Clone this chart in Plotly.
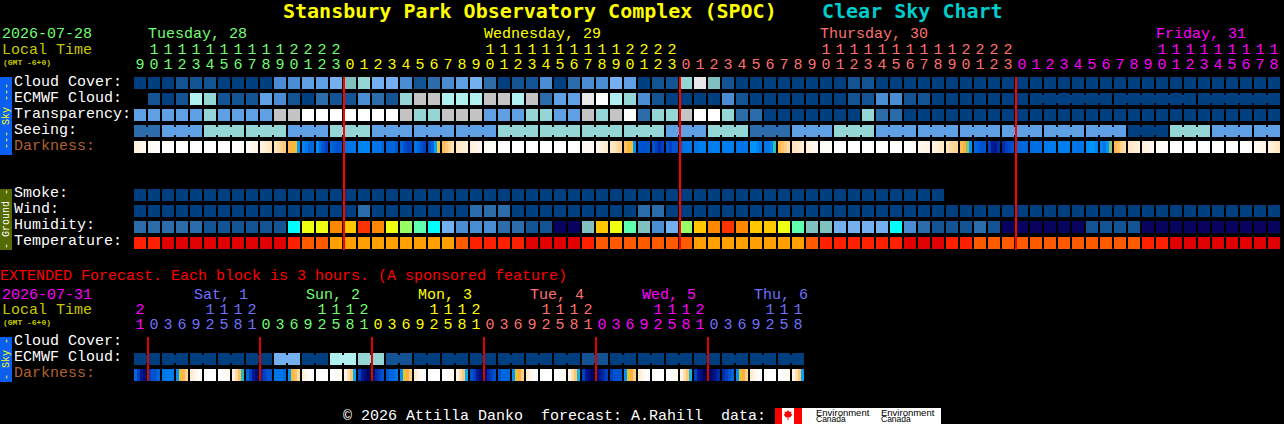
import plotly.graph_objects as go

W, H = 1284, 424
MONO = "Liberation Mono"
TITLE_FONT = "DejaVu Sans Mono"

GREEN = "#70ff70"
YELLOW = "#ffff00"
SALMON = "#ff7070"
MAGENTA = "#ff00ff"
PERI = "#7070ff"

# one palette for all block rows, the row lists below index into it
PALETTE = [
    "#003f7f", "#135393", "#2d6cab", "#4b8dd3", "#5f9fe3", "#74b0f0",
    "#80c0c0", "#94d5d5", "#b0f0f0", "#c4c4c4", "#e8e8e8", "#ffffff",
    "#08035f", "#00ffff", "#5fffb0", "#99ff66", "#eeff11", "#ffc800",
    "#ff8800", "#ff3300", "#e00000", "#ff2000", "#ff5a00", "#ffa000",
]

DARK_SCALE = [
    [0 / 12, "#ffffff"], [1 / 12, "#fff3e2"], [2 / 12, "#ffe4bc"], [3 / 12, "#ffcf88"],
    [4 / 12, "#ffb040"], [5 / 12, "#f0c030"], [6 / 12, "#30c0b0"], [7 / 12, "#00a4ff"],
    [8 / 12, "#0084f4"], [9 / 12, "#0066dc"], [10 / 12, "#0040c0"], [11 / 12, "#001890"],
    [12 / 12, "#000060"],
]

hours = [9, 10, 11, 12, 13, 14, 15, 16, 17, 18, 19, 20, 21, 22, 23,
         0, 1, 2, 3, 4, 5, 6, 7, 8, 9, 10, 11, 12, 13, 14, 15, 16, 17, 18, 19, 20, 21, 22, 23,
         0, 1, 2, 3, 4, 5, 6, 7, 8, 9, 10, 11, 12, 13, 14, 15, 16, 17, 18, 19, 20, 21, 22, 23,
         0, 1, 2, 3, 4, 5, 6, 7, 8, 9, 10, 11, 12, 13, 14, 15, 16, 17, 18]
hour_days = [GREEN] * 15 + [YELLOW] * 24 + [SALMON] * 24 + [MAGENTA] * 19
midnights = [15, 39, 63]

ext_hours = [21,
             0, 3, 6, 9, 12, 15, 18, 21,
             0, 3, 6, 9, 12, 15, 18, 21,
             0, 3, 6, 9, 12, 15, 18, 21,
             0, 3, 6, 9, 12, 15, 18, 21,
             0, 3, 6, 9, 12, 15, 18, 21,
             0, 3, 6, 9, 12, 15, 18]
ext_days = [MAGENTA] + [PERI] * 8 + [GREEN] * 8 + [YELLOW] * 8 + [SALMON] * 8 + [MAGENTA] * 8 + [PERI] * 7
ext_midnights = [1, 9, 17, 25, 33, 41]

cloud = [0, 0, 0, 1, 1, 1, 0, 0, 0, 0, 3, 3, 4, 4, 5, 6, 7, 5, 5, 3,
         1, 2, 3, 4, 5, 2, 0, 1, 1, 3, 0, 2, 3, 3, 5, 4, 0, 1, 1, 7,
         10, 6, 1, 0, 0, 0, 0, 0, 0, 0, 0, 1, 1, 0, 0, 0, 0, 0, 0, 0,
         0, 0, 0, 0, 0, 0, 0, 0, 0, 0, 0, 0, 0, 0, 0, 0, 0, 0, 0, 0, 0, 0]
ecmwf = [None, 1, 0, 1, 8, 7, 1, 1, 1, 4, 3, 1, 0, 2, 1, 1, 3, 2, 1, 7,
         9, 9, 8, 8, 8, 9, 9, 8, 9, 2, 4, 4, 10, 11, 8, 7, 3, 1, 0, 0,
         0, 0, 3, 1, 0, 0, 0, 0, 0, 0, 0, 1, 1, 3, 3, 1, 1, 0, 0, 0,
         0, 0, 0, 0, 0, 0, 0, 0, 0, 0, 0, 0, 0, 0, 0, 0, 0, 0, 0, 0, 0, 0]
ecmwf_blocks = [(64, 69), (70, 75), (76, 81)]
transparency = [4, 4, 4, 4, 4, 7, 4, 4, 4, 4, 9, 9, 11, 11, 11, 11, 11, 11, 11, 9,
                7, 7, 9, 9, 9, 4, 4, 4, 7, 7, 4, 4, 9, 7, 9, 11, 2, 7, 7, 9,
                11, 11, 7, 2, 2, 0, 0, 0, 0, 0, 0, 0, 7, 2, 2, 0, 0, 0, 0, 0,
                0, 0, 0, 0, 0, 0, 0, 0, 0, 0, 0, 0, 0, 0, 0, 0, 0, 0, 0, 0, 0, 0]
seeing = [2, 2, 4, 4, 4, 7, 7, 7, 7, 7, 7, 4, 4, 4, 7, 7, 7, 4, 4, 4,
          4, 4, 4, 4, 4, 4, 7, 7, 7, 7, 7, 7, 7, 7, 7, 7, 7, 7, 4, 4,
          4, 7, 7, 7, 2, 2, 2, 4, 4, 4, 7, 7, 7, 4, 4, 4, 4, 4, 4, 4,
          4, 4, 4, 4, 4, 4, 4, 4, 4, 4, 4, 0, 0, 0, 7, 7, 7, 4, 4, 4, 4, 4]
seeing_blocks = [(0, 1), (2, 4), (5, 7), (8, 10), (11, 13), (14, 16), (17, 19), (20, 22),
                 (23, 25), (26, 28), (29, 31), (32, 34), (35, 37), (38, 40), (41, 43),
                 (44, 46), (47, 49), (50, 52), (53, 55), (56, 58), (59, 61), (62, 64),
                 (65, 67), (68, 70), (71, 73), (74, 76), (77, 79), (80, 81)]
smoke = [0, 0, 0, 0, 0, 0, 0, 0, 0, 0, 0, 0, 0, 0, 0, 0, 0, 0, 0, 0,
         0, 0, 0, 0, 0, 0, 0, 0, 0, 0, 0, 0, 0, 0, 0, 0, 0, 0, 0, 0,
         0, 0, 0, 0, 0, 0, 0, 0, 0, 0, 0, 0, 0, 0, 0, 0, 0, 0,
         None, None, None, None, None, None, None, None, None, None, None, None,
         None, None, None, None, None, None, None, None, None, None, None, None]
wind = [0, 0, 0, 0, 0, 0, 0, 0, 0, 0, 0, 0, 0, 0, 0, 0, 2, 0, 0, 0,
        0, 0, 0, 0, 2, 2, 2, 0, 0, 0, 0, 0, 0, 0, 0, 0, 2, 2, 0, 0,
        0, 0, 0, 0, 0, 0, 0, 0, 0, 0, 0, 0, 0, 0, 0, 0, 0, 0, 0, 0,
        0, 0, 0, 0, 0, 0, 0, 0, 0, 0, 0, 0, 0, 0, 0, 0, 0, 0, 0, 0, 0, 0]
humidity = [2, 2, 2, 2, 2, 1, 1, 1, 1, 1, 1, 13, 16, 16, 18, 17, 19, 18, 16, 15,
            14, 13, 5, 3, 3, 3, 2, 2, 1, 1, 12, 12, 6, 17, 16, 14, 6, 3, 5, 15,
            17, 18, 19, 18, 17, 17, 16, 14, 6, 6, 5, 5, 5, 5, 13, 3, 2, 1, 1, 1,
            2, 1, 12, 12, 12, 12, 12, 12, 1, 1, 1, 1, 12, 12, 12, 12, 12, 12, 12, 12, 12, 12]
temperature = [21, 21, 20, 20, 20, 20, 20, 20, 20, 20, 20, 21, 22, 22, 23, 23, 23, 23, 23, 23,
               23, 23, 23, 22, 21, 21, 21, 21, 20, 20, 20, 20, 21, 22, 22, 22, 22, 22, 22, 22,
               23, 23, 23, 23, 23, 23, 23, 23, 22, 21, 21, 21, 21, 21, 21, 20, 20, 20, 21, 21,
               22, 22, 22, 22, 22, 22, 22, 22, 22, 22, 22, 22, 21, 21, 20, 20, 20, 20, 20, 20, 20, 20]

# darkness changes inside a block, so 4 readings per block
darkness = [
    [1.2, 1, .8, .5], [.6, .3, .2, .1], [0, 0, 0, 0], [0, 0, 0, 0], [0, 0, 0, 0], [0, 0, 0, 0],
    [0, 0, 0, 0], [0, .1, .2, .3], [.3, .5, .7, .9], [1, 1.3, 1.6, 2], [2, 2.4, 2.8, 3.2],
    [3.8, 4.4, 5, 7.3], [8, 8.5, 9, 9], [7.8, 9, 9.5, 10], [9, 9.3, 9.5, 9.5], [8.5, 8.5, 8.5, 8.5],
    [8, 8, 8, 8], [8.5, 8.5, 8.5, 9], [9, 9, 9, 9.5], [9, 9.5, 10, 10], [8.5, 9, 9.5, 10],
    [9.5, 9, 7, 5], [3.6, 3.2, 2.7, 2.2], [1.8, 1.6, 1.4, 1.2], [1.3, 1, .8, .6], [.3, .2, .1, .2],
    [0, 0, 0, 0], [0, 0, 0, 0], [0, 0, 0, 0], [0, 0, 0, 0], [0, 0, 0, 0], [.1, .1, .1, .2],
    [.5, .5, .4, .4], [.8, 1, 1.2, 1.5], [1.7, 2, 2.4, 2.8], [3.5, 4.3, 5, 7.5], [9.5, 9.5, 9.5, 9.5],
    [9.5, 10, 10.5, 10], [9.5, 10, 9.5, 9.5], [9, 8.5, 8.5, 8.5], [8.5, 8.3, 8.2, 8.2], [8.2, 8.2, 8.2, 8.2],
    [8.2, 8.2, 8.2, 8.2], [8.5, 8.5, 8.5, 8.5], [7.5, 7.5, 8, 8.5], [8.5, 8.5, 8, 6], [3.8, 3.4, 3, 2.5],
    [2, 1.8, 1.6, 1.4], [1.2, .9, .7, .5], [.3, .2, .2, .3], [0, 0, 0, 0], [0, 0, 0, 0], [0, 0, 0, 0],
    [0, 0, 0, 0], [0, 0, 0, 0], [0, .1, .2, .4], [.5, .7, .9, .9], [1, 1.2, 1.5, 1.7], [2, 2.4, 2.6, 2.8],
    [3.6, 4.3, 5.5, 7.5], [9, 9.3, 9.5, 9.5], [10, 11, 11, 10.5], [10.5, 10, 9.8, 9.5], [9, 9, 9, 9],
    [8.7, 8.7, 8.7, 8.7], [8.3, 8.3, 8.3, 8.3], [8.2, 8.2, 8.2, 8.2], [8.5, 8.5, 8.5, 8.5], [7.8, 7.5, 7.5, 8],
    [8, 8.5, 7.5, 5.5], [3.8, 3.4, 2.8, 2.4], [1.8, 1.6, 1.4, 1.2], [1.2, 1, .8, .6], [.4, .3, .2, .1],
    [0, 0, 0, 0], [0, 0, 0, 0], [0, 0, 0, 0], [0, 0, 0, 0], [0, 0, 0, 0], [0, 0, .1, .2],
    [.3, .5, .7, .9], [1, 1.3, 1.6, 2],
]

ext_ecmwf_pairs = [0, 0, 0, 0, 0, 5, 0, 8, 7, 1, 0, 0, 0, 0, 0, 0, 1, 0, 0, 0, 0, 0, 0, 0]
ext_darkness = [
    [9, 10, 11, 11.5], [10, 9.5, 9.5, 9], [8.5, 8.3, 8.2, 8.2], [7.5, 5, 3.8, 2.8],
    [1.5, .8, .4, .2], [0, 0, 0, 0], [0, .1, .3, .6], [1.2, 2.4, 3.6, 6.2],
    [9, 10, 11, 11.5], [10.5, 10, 9.5, 9.5], [8.5, 8.5, 8.5, 9], [7.5, 4.5, 3.5, 2.5],
    [1.2, .6, .2, .1], [0, 0, 0, 0], [0, .1, .3, .6], [1, 2.2, 3.4, 6.8],
    [10, 11, 11.5, 12], [11.5, 10.5, 10, 9.5], [9.5, 9, 9, 8.5], [7.5, 5, 4, 3],
    [1.5, .8, .3, .1], [0, 0, 0, 0], [0, .1, .3, .6], [1, 2.2, 3.2, 6.8],
    [9.5, 10, 11, 11.5], [11.5, 10.5, 10, 9.5], [9.5, 9, 9, 9], [7.5, 5, 4, 3],
    [1.5, .8, .3, .1], [0, 0, 0, 0], [0, .1, .3, .6], [1, 2.2, 3.4, 6.5],
    [10, 11, 11.5, 12], [11.5, 11, 10.5, 10], [10, 9.5, 9.5, 9.5], [7.5, 5, 4, 3],
    [1.5, .8, .3, .1], [0, 0, 0, 0], [0, .1, .3, .6], [1, 2.2, 3.4, 6.5],
    [10, 11, 11.5, 12], [12, 11.5, 11, 10.5], [10.5, 10, 9.5, 9], [7.5, 5, 4, 3],
    [1.5, .8, .3, .1], [0, 0, 0, 0], [0, .1, .3, .6], [1, 2.2, 3.4, 7],
]


def row_of(py):
    # rows are 16 px apart, row 0 sits at pixel 83
    return (py - 83) / 16


def stepped_scale(colors):
    n = len(colors)
    out = []
    for i, c in enumerate(colors):
        out.append([i / n, c])
        out.append([(i + 1) / n, c])
    return out


STEPS = stepped_scale(PALETTE)
HALF = 6 / 14  # half of a 12 px block in column units


def block_heatmap(rows, y, xs):
    return go.Heatmap(z=rows, x=xs, y=y, xgap=2, ygap=4, colorscale=STEPS,
                      zmin=-0.5, zmax=len(PALETTE) - 0.5, showscale=False, hoverinfo="skip")


def darkness_heatmap(samples, y):
    edges = []
    z = []
    for i, vals in enumerate(samples):
        edges += [i - HALF, i - HALF / 2, i, i + HALF / 2]
        z += vals
        if i < len(samples) - 1:
            edges.append(i + HALF)
            z.append(None)
    edges.append(len(samples) - 1 + HALF)
    return go.Heatmap(z=[z], x=edges, y=[y], ygap=4, colorscale=DARK_SCALE, zmin=0, zmax=12,
                      showscale=False, hoverinfo="skip")


def connectors(values, blocks, y):
    # the narrow necks which join the blocks of one forecast period
    traces = []
    for start, end in blocks:
        traces.append(go.Scatter(x=[start, end], y=[y, y], mode="lines", hoverinfo="skip",
                                 line=dict(color=PALETTE[values[start]], width=8), showlegend=False))
    return traces


def hour_text(hrs, colors, y_tens, y_units):
    cols = list(range(len(hrs)))
    return [
        go.Scatter(x=cols, y=[y_tens] * len(hrs), mode="text", hoverinfo="skip", showlegend=False,
                   text=[str(h // 10) if h >= 10 else "" for h in hrs],
                   textfont=dict(family=MONO, size=15, color=colors)),
        go.Scatter(x=cols, y=[y_units] * len(hrs), mode="text", hoverinfo="skip", showlegend=False,
                   text=[str(h % 10) for h in hrs],
                   textfont=dict(family=MONO, size=15, color=colors)),
    ]


def red_lines(cols, top, bottom, color):
    xs, ys = [], []
    for c in cols:
        xs += [c - HALF, c - HALF, None]
        ys += [row_of(top), row_of(bottom), None]
    return go.Scatter(x=xs, y=ys, mode="lines", line=dict(color=color, width=2),
                      hoverinfo="skip", showlegend=False)


blank = [None] * len(hours)
all_cols = list(range(len(hours)))
ext_cols = list(range(len(ext_hours)))
ext_ecmwf = [v for v in ext_ecmwf_pairs for _ in (0, 1)]
ext_blocks = [(i, i + 1) for i in range(0, len(ext_hours), 2)]

fig = go.Figure()
fig.add_trace(block_heatmap(
    [cloud, ecmwf, transparency, seeing, blank, blank, blank, smoke, wind, humidity, temperature],
    list(range(11)), all_cols))
fig.add_trace(darkness_heatmap(darkness, 4))
fig.add_trace(block_heatmap([ext_ecmwf], [row_of(359)], ext_cols))
fig.add_trace(darkness_heatmap(ext_darkness, row_of(375)))

for tr in connectors(seeing, seeing_blocks, 3):
    fig.add_trace(tr)
for tr in connectors(ecmwf, ecmwf_blocks, 1):
    fig.add_trace(tr)
for tr in connectors(ext_ecmwf, ext_blocks, row_of(359)):
    fig.add_trace(tr)

fig.add_trace(red_lines(midnights, 77, 250, "#ff0000"))
fig.add_trace(red_lines(ext_midnights, 337, 381, "#e00000"))

for tr in hour_text(hours, hour_days, row_of(50.5), row_of(65.5)):
    fig.add_trace(tr)
for tr in hour_text(ext_hours, ext_days, row_of(310.5), row_of(325.5)):
    fig.add_trace(tr)


def label(text, px, py, color="#ffffff", size=15, bold=False, family=MONO, angle=0, anchor="left"):
    if bold:
        text = "<b>" + text + "</b>"
    fig.add_annotation(x=px / W, y=1 - py / H, xref="paper", yref="paper", text=text, showarrow=False,
                       xanchor=anchor, yanchor="middle", borderpad=0, borderwidth=0, textangle=angle,
                       font=dict(family=family, size=size, color=color))


label("Stansbury Park Observatory Complex (SPOC)", 283, 11, YELLOW, 20, True, TITLE_FONT)
label("Clear Sky Chart", 822, 11, "#00cccc", 20, True, TITLE_FONT)

label("2026-07-28", 2, 35, GREEN)
label("Local Time", 2, 50, "#c8c800")
label("(GMT -6+0)", 3, 62, "#c8c800", 8, True)
label("Tuesday, 28", 148, 35, GREEN)
label("Wednesday, 29", 484, 35, YELLOW)
label("Thursday, 30", 820, 35, SALMON)
label("Friday, 31", 1156, 35, MAGENTA)

for text, py in [("Cloud Cover:", 82), ("ECMWF Cloud:", 98), ("Transparency:", 114), ("Seeing:", 130),
                 ("Smoke:", 193), ("Wind:", 209), ("Humidity:", 225), ("Temperature:", 241),
                 ("Cloud Cover:", 341), ("ECMWF Cloud:", 357)]:
    label(text, 14, py)
label("Darkness:", 14, 146, "#b0602f")
label("Darkness:", 14, 373, "#b0602f")

label("EXTENDED Forecast. Each block is 3 hours. (A sponsored feature)", 0, 276, "#ff0000")
label("2026-07-31", 2, 295, MAGENTA)
label("Local Time", 2, 310, "#c8c800")
label("(GMT -6+0)", 3, 322, "#c8c800", 8, True)
for text, px, color in [("Sat, 1", 194, PERI), ("Sun, 2", 306, GREEN), ("Mon, 3", 418, YELLOW),
                        ("Tue, 4", 530, SALMON), ("Wed, 5", 642, MAGENTA), ("Thu, 6", 754, PERI)]:
    label(text, px, 295, color)

label("© 2026 Attilla Danko  forecast: A.Rahill  data:".replace("  ", "&nbsp;&nbsp;"), 343, 416)

label("--- Sky ---", 6, 116, YELLOW, 10, angle=-90, anchor="center")
label("- Ground -", 6, 219, "#ffffff", 10, angle=-90, anchor="center")
label("- Sky -", 6, 359, YELLOW, 10, angle=-90, anchor="center")


def rect(x0, y0, x1, y1, color):
    fig.add_shape(type="rect", xref="paper", yref="paper", x0=x0 / W, x1=x1 / W,
                  y0=1 - y0 / H, y1=1 - y1 / H, fillcolor=color, line_width=0, layer="below")


rect(0, 77, 12, 155, "#0a5ff0")
rect(0, 189, 12, 250, "#556b00")
rect(0, 337, 12, 382, "#0a5ff0")

# Environment Canada signature at the bottom
rect(775, 408, 941, 424, "#ffffff")
rect(775, 408, 782, 424, "#ff0000")
rect(794, 408, 802, 424, "#ff0000")
leaf = [(788, 410), (789.5, 412), (791.5, 411.5), (791, 414), (792.5, 414.5), (790, 417.5),
        (788.5, 417), (788.5, 420), (787.5, 420), (787.5, 417), (786, 417.5), (783.5, 414.5),
        (785, 414), (784.5, 411.5), (786.5, 412)]
fig.add_shape(type="path", xref="paper", yref="paper", fillcolor="#ff0000", line_width=0,
              path="M " + " L ".join(f"{px / W:.5f},{1 - py / H:.5f}" for px, py in leaf) + " Z")
for px in (816, 881):
    label("Environment", px, 412, "#000000", 9.5, family="Liberation Sans")
    label("Canada", px, 418.5, "#000000", 8.5, family="Liberation Sans")

fig.update_layout(
    width=W, height=H,
    margin=dict(l=0, r=0, t=0, b=0),
    paper_bgcolor="#000000", plot_bgcolor="#000000",
    showlegend=False, hovermode=False,
    xaxis=dict(range=[-10, (W - 140) / 14], visible=False, fixedrange=True),
    yaxis=dict(range=[row_of(H), row_of(0)], visible=False, fixedrange=True),
)

fig.write_html("out.html", config=dict(displayModeBar=False),
               post_script="document.body.style.margin='0';document.body.style.background='#000';")
